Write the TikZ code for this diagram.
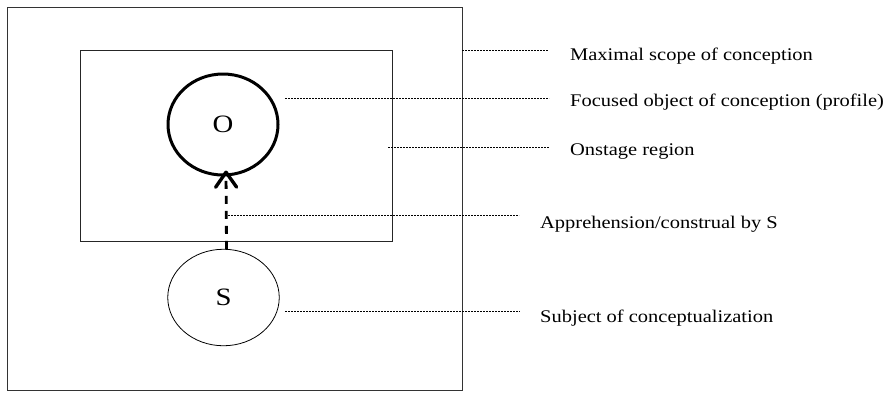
\documentclass[tikz,border=0pt]{standalone}
\usepackage{fontspec}
\setmainfont[FakeStretch=1.15]{Liberation Serif}
\usetikzlibrary{arrows.meta}
\usetikzlibrary{shapes.geometric}

\begin{document}
\begin{tikzpicture}[x=1pt, y=-1pt,
    guide/.style={dash pattern=on 2pt off 1pt, line width=0.55pt},
    lbl/.style={anchor=west, inner sep=0pt, font=\fontsize{17.8}{20}\selectfont},
    blob/.style={draw, ellipse, inner sep=0pt, font=\fontsize{25}{25}\selectfont}]
	    \useasboundingbox (0,0) rectangle (890,392);
	    % maximal scope and onstage region
	    \coordinate (scopeNW) at (7,7);
	    \coordinate (scopeSE) at (462,390);
	    \coordinate (stageNW) at (80,50);
	    \coordinate (stageSE) at (392,241);
	    \draw[line width=1pt, black!80] (scopeNW) rectangle (scopeSE);
	    \draw[line width=1pt, black!85] (stageNW) rectangle (stageSE);
	    % object and subject
	    \node[blob, line width=3pt, minimum width=110pt, minimum height=101pt] (O) at (223,124.5) {O};
	    \node[blob, line width=0.8pt, minimum width=111.5pt, minimum height=96.5pt] (S) at (223.5,297.5) {S};
	    \draw[line width=2.8pt, dash pattern=on 8pt off 7pt,
	        -{Straight Barb[length=15pt,width=21pt,line width=3.4pt,round]}]
	        ([xshift=3pt]S.north) -- ([xshift=3pt,yshift=6pt]O.south);
	    % labels
	    \node[lbl] (maxl) at (570,56) {Maximal scope of conception};
	    \node[lbl] (focl) at (570,102) {Focused object of conception (profile)};
	    \node[lbl] (onsl) at (570,152) {Onstage region};
	    \node[lbl] (appl) at (540,224) {Apprehension/construal by S};
	    \node[lbl] (subl) at (540,318) {Subject of conceptualization};
	    % guide lines
	    \coordinate (maxa) at (scopeSE |- 0,50);
	    \coordinate (maxb) at (548,50);
	    \coordinate (foca) at (285,98);
	    \coordinate (focb) at (549,98);
	    \coordinate (onsa) at (388,147);
	    \coordinate (onsb) at (549,147);
	    \coordinate (appa) at (228,215);
	    \coordinate (appb) at (519,215);
	    \coordinate (suba) at (285,311);
	    \coordinate (subb) at (520,311);
	    \foreach \g in {max,foc,ons,app,sub}
	    \draw[guide] (\g a) -- (\g b);
\end{tikzpicture}
\end{document}
